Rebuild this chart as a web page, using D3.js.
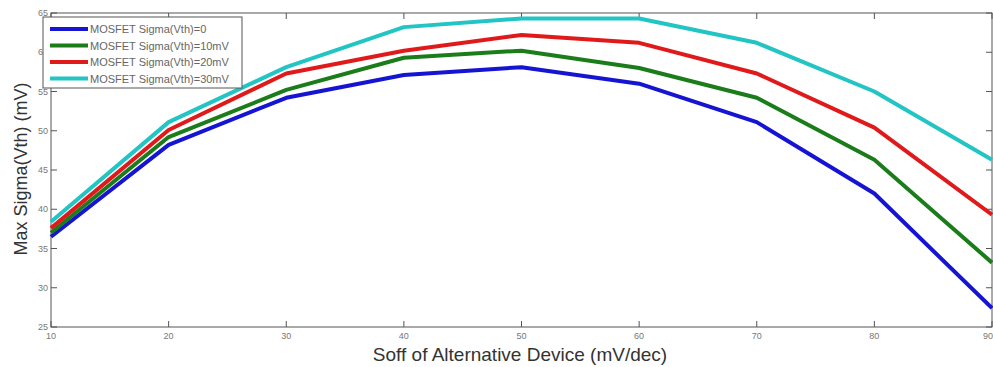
<!DOCTYPE html>
<html>
<head>
<meta charset="utf-8">
<script src="https://cdn.jsdelivr.net/npm/d3@7"></script>
<style>
  html, body { margin: 0; padding: 0; background: #fff; }
  svg { display: block; }
  text { font-family: Arial, "Liberation Sans", sans-serif; }
</style>
</head>
<body>
<svg id="chart" width="993" height="367"></svg>
<script>
// Soff of the alternative device (mV/dec)
const soff = [10, 20, 30, 40, 50, 60, 70, 80, 90];

// Max Sigma(Vth) (mV) for each MOSFET Sigma(Vth)
const sigma0  = [36.5, 48.2, 54.2, 57.1, 58.1, 56.0, 51.1, 42.0, 27.4];
const sigma10 = [37.0, 49.2, 55.2, 59.3, 60.2, 58.0, 54.2, 46.3, 33.2];
const sigma20 = [37.6, 50.1, 57.3, 60.2, 62.2, 61.2, 57.3, 50.4, 39.3];
const sigma30 = [38.4, 51.1, 58.1, 63.2, 64.3, 64.3, 61.2, 55.0, 46.3];

const seriesNames = [
  "MOSFET Sigma(Vth)=0",
  "MOSFET Sigma(Vth)=10mV",
  "MOSFET Sigma(Vth)=20mV",
  "MOSFET Sigma(Vth)=30mV"
];
const seriesColors = ["#1414d2", "#1a7d1a", "#e01a1a", "#22c4c4"];
const seriesValues = [sigma0, sigma10, sigma20, sigma30];

const xTicks = [10, 20, 30, 40, 50, 60, 70, 80, 90];
const yTicks = [25, 30, 35, 40, 45, 50, 55, 60, 65];

const svg = d3.select("#chart");
const m = { left: 51, right: 992, top: 13, bottom: 327 };

const x = d3.scaleLinear().domain([10, 90]).range([m.left, m.right]);
const y = d3.scaleLinear().domain([25, 65]).range([m.bottom, m.top]);

const tickLen = 6;
const axisColor = "#555";
const tickTextColor = "#777";

// Plot box
svg.append("rect")
  .attr("x", m.left).attr("y", m.top)
  .attr("width", m.right - m.left).attr("height", m.bottom - m.top)
  .attr("fill", "none").attr("stroke", axisColor).attr("stroke-width", 1);

// Inward ticks on all four sides
const gAxes = svg.append("g");
xTicks.forEach(t => {
  gAxes.append("line").attr("x1", x(t)).attr("x2", x(t))
    .attr("y1", m.bottom).attr("y2", m.bottom - tickLen)
    .attr("stroke", axisColor);
  gAxes.append("line").attr("x1", x(t)).attr("x2", x(t))
    .attr("y1", m.top).attr("y2", m.top + tickLen)
    .attr("stroke", axisColor);
});
yTicks.forEach(t => {
  gAxes.append("line").attr("x1", m.left).attr("x2", m.left + tickLen)
    .attr("y1", y(t)).attr("y2", y(t)).attr("stroke", axisColor);
  gAxes.append("line").attr("x1", m.right).attr("x2", m.right - tickLen)
    .attr("y1", y(t)).attr("y2", y(t)).attr("stroke", axisColor);
});

// Tick labels (the last one sits on the right edge of the page)
svg.append("g").selectAll("text").data(xTicks).join("text")
  .attr("x", d => Math.min(x(d), 988)).attr("y", m.bottom + 12)
  .attr("text-anchor", "middle")
  .attr("font-size", 9).attr("fill", tickTextColor)
  .text(d => d);

svg.append("g").selectAll("text").data(yTicks).join("text")
  .attr("x", m.left - 3).attr("y", d => y(d) + 3)
  .attr("text-anchor", "end")
  .attr("font-size", 9).attr("fill", tickTextColor)
  .text(d => d);

// Axis titles
svg.append("text")
  .attr("x", 520).attr("y", 361)
  .attr("text-anchor", "middle")
  .attr("font-size", 19).attr("fill", "#333")
  .text("Soff of Alternative Device (mV/dec)");

svg.append("text")
  .attr("transform", `translate(27, 169) rotate(-90)`)
  .attr("text-anchor", "middle")
  .attr("font-size", 18).attr("fill", "#333")
  .text("Max Sigma(Vth) (mV)");

// Series lines
const line = d3.line().x((d, i) => x(soff[i])).y(d => y(d));
svg.append("g").selectAll("path").data(seriesValues).join("path")
  .attr("d", d => line(d))
  .attr("fill", "none")
  .attr("stroke", (d, i) => seriesColors[i])
  .attr("stroke-width", 4)
  .attr("stroke-linejoin", "round");

// Legend
const lg = svg.append("g").attr("transform", "translate(43,17)");
lg.append("rect").attr("width", 199).attr("height", 71)
  .attr("fill", "#fff").attr("stroke", axisColor).attr("stroke-width", 1);
seriesNames.forEach((name, i) => {
  const yy = 12 + i * 16.5;
  lg.append("line").attr("x1", 7).attr("x2", 45)
    .attr("y1", yy).attr("y2", yy)
    .attr("stroke", seriesColors[i]).attr("stroke-width", 4);
  lg.append("text").attr("x", 47).attr("y", yy + 4)
    .attr("font-size", 11).attr("fill", "#666")
    .text(name);
});
</script>
</body>
</html>
